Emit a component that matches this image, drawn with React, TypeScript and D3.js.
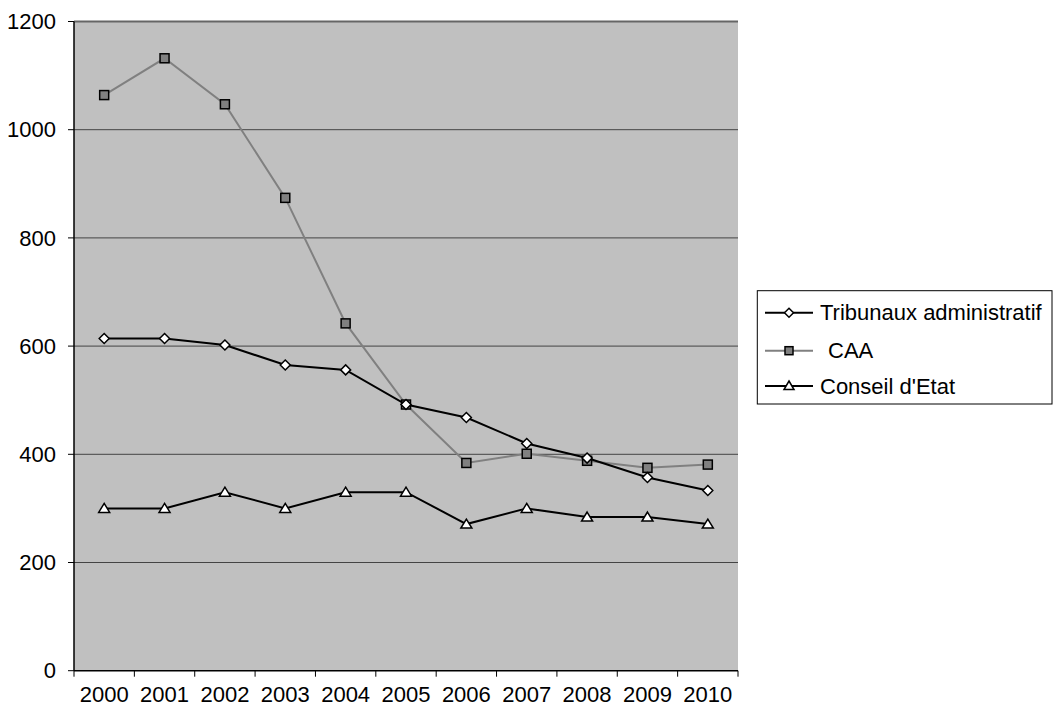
import React from "react";
import * as d3 from "d3";

const years = ["2000","2001","2002","2003","2004","2005","2006","2007","2008","2009","2010"];
const tribunaux = [614, 614, 602, 565, 556, 492, 468, 420, 393, 357, 333];
const caa = [1064, 1132, 1047, 874, 642, 492, 384, 401, 388, 375, 381];
const conseil = [300, 300, 330, 300, 330, 330, 271, 300, 284, 284, 271];
const yTicks = [0, 200, 400, 600, 800, 1000, 1200];

const W = 1056, H = 714;
const left = 74, right = 738, top = 21.5, bottom = 670.7;
const FONT = "'Liberation Sans', Arial, sans-serif";

export default function App() {
  const x = d3.scaleBand<string>().domain(years).range([left, right]).padding(0);
  const y = d3.scaleLinear().domain([0, 1200]).range([bottom, top]);
  const cx = (i: number) => (x(years[i]) as number) + x.bandwidth() / 2;
  const line = d3.line<number>().x((_, i) => cx(i)).y((v) => y(v));

  const diamond = (px: number, py: number, s = 5) =>
    `M${px},${py - s}L${px + s},${py}L${px},${py + s}L${px - s},${py}Z`;
  const tri = (px: number, py: number) =>
    `M${px},${py - 5}L${px + 5.5},${py + 4}L${px - 5.5},${py + 4}Z`;

  const legendRows = [
    { name: "Tribunaux administratif", y: 312.7, color: "#000", kind: "d", tx: 820 },
    { name: "CAA", y: 350.7, color: "#808080", kind: "s", tx: 828 },
    { name: "Conseil d'Etat", y: 386, color: "#000", kind: "t", tx: 820 },
  ];

  return (
    <svg width={W} height={H} style={{ position: "absolute", left: 0, top: 0, background: "#fff" }}>
      <rect x={left} y={top} width={right - left} height={bottom - top} fill="#c0c0c0" />
      {yTicks.filter((t) => t > 0).map((t) => (
        <line key={"g" + t} x1={left} x2={right} y1={y(t)} y2={y(t)}
          stroke={t === 1200 ? "#666" : "#444"} strokeWidth={t === 1200 ? 2 : 1} />
      ))}
      {/* axes */}
      <line x1={left} x2={left} y1={top} y2={bottom} stroke="#000" strokeWidth={1.5} />
      <line x1={left} x2={right} y1={bottom} y2={bottom} stroke="#000" strokeWidth={1.5} />
      {yTicks.map((t) => (
        <g key={"yt" + t}>
          <line x1={left - 6} x2={left} y1={y(t)} y2={y(t)} stroke="#000" strokeWidth={1} />
          <text x={56} y={y(t)} dy="0.35em" textAnchor="end" fontFamily={FONT} fontSize={22} fill="#000">{t}</text>
        </g>
      ))}
      {years.map((yr) => (
        <line key={"xt" + yr} x1={x(yr) as number} x2={x(yr) as number} y1={bottom} y2={bottom + 6} stroke="#000" strokeWidth={1} />
      ))}
      <line x1={right} x2={right} y1={bottom} y2={bottom + 6} stroke="#000" strokeWidth={1} />
      {years.map((yr, i) => (
        <text key={"xl" + yr} x={cx(i)} y={694} dy="0.35em" textAnchor="middle" fontFamily={FONT} fontSize={22} fill="#000">{yr}</text>
      ))}

      {/* CAA */}
      <path d={line(caa) || ""} fill="none" stroke="#808080" strokeWidth={2} />
      {caa.map((v, i) => (
        <rect key={"c" + i} x={cx(i) - 4.5} y={y(v) - 4.5} width={9} height={9} fill="#808080" stroke="#000" strokeWidth={1.5} />
      ))}
      {/* Tribunaux */}
      <path d={line(tribunaux) || ""} fill="none" stroke="#000" strokeWidth={2} />
      {tribunaux.map((v, i) => (
        <path key={"t" + i} d={diamond(cx(i), y(v))} fill="#fff" stroke="#000" strokeWidth={1.5} />
      ))}
      {/* Conseil */}
      <path d={line(conseil) || ""} fill="none" stroke="#000" strokeWidth={2} />
      {conseil.map((v, i) => (
        <path key={"e" + i} d={tri(cx(i), y(v))} fill="#fff" stroke="#000" strokeWidth={1.5} />
      ))}

      {/* legend */}
      <rect x={757.3} y={290.7} width={294.7} height={113.3} fill="#fff" stroke="#000" strokeWidth={1} />
      {legendRows.map((r) => (
        <g key={r.name}>
          <line x1={765} x2={813} y1={r.y} y2={r.y} stroke={r.color} strokeWidth={2} />
          {r.kind === "d" && <path d={diamond(789, r.y, 4.5)} fill="#fff" stroke="#000" strokeWidth={1.5} />}
          {r.kind === "s" && <rect x={785} y={r.y - 4} width={8} height={8} fill="#808080" stroke="#000" strokeWidth={1.5} />}
          {r.kind === "t" && <path d={`M789,${r.y - 5}L794,${r.y + 3.5}L784,${r.y + 3.5}Z`} fill="#fff" stroke="#000" strokeWidth={1.5} />}
          <text x={r.tx} y={r.y} dy="0.35em" fontFamily={FONT} fontSize={22} fill="#000">{r.name}</text>
        </g>
      ))}
    </svg>
  );
}
